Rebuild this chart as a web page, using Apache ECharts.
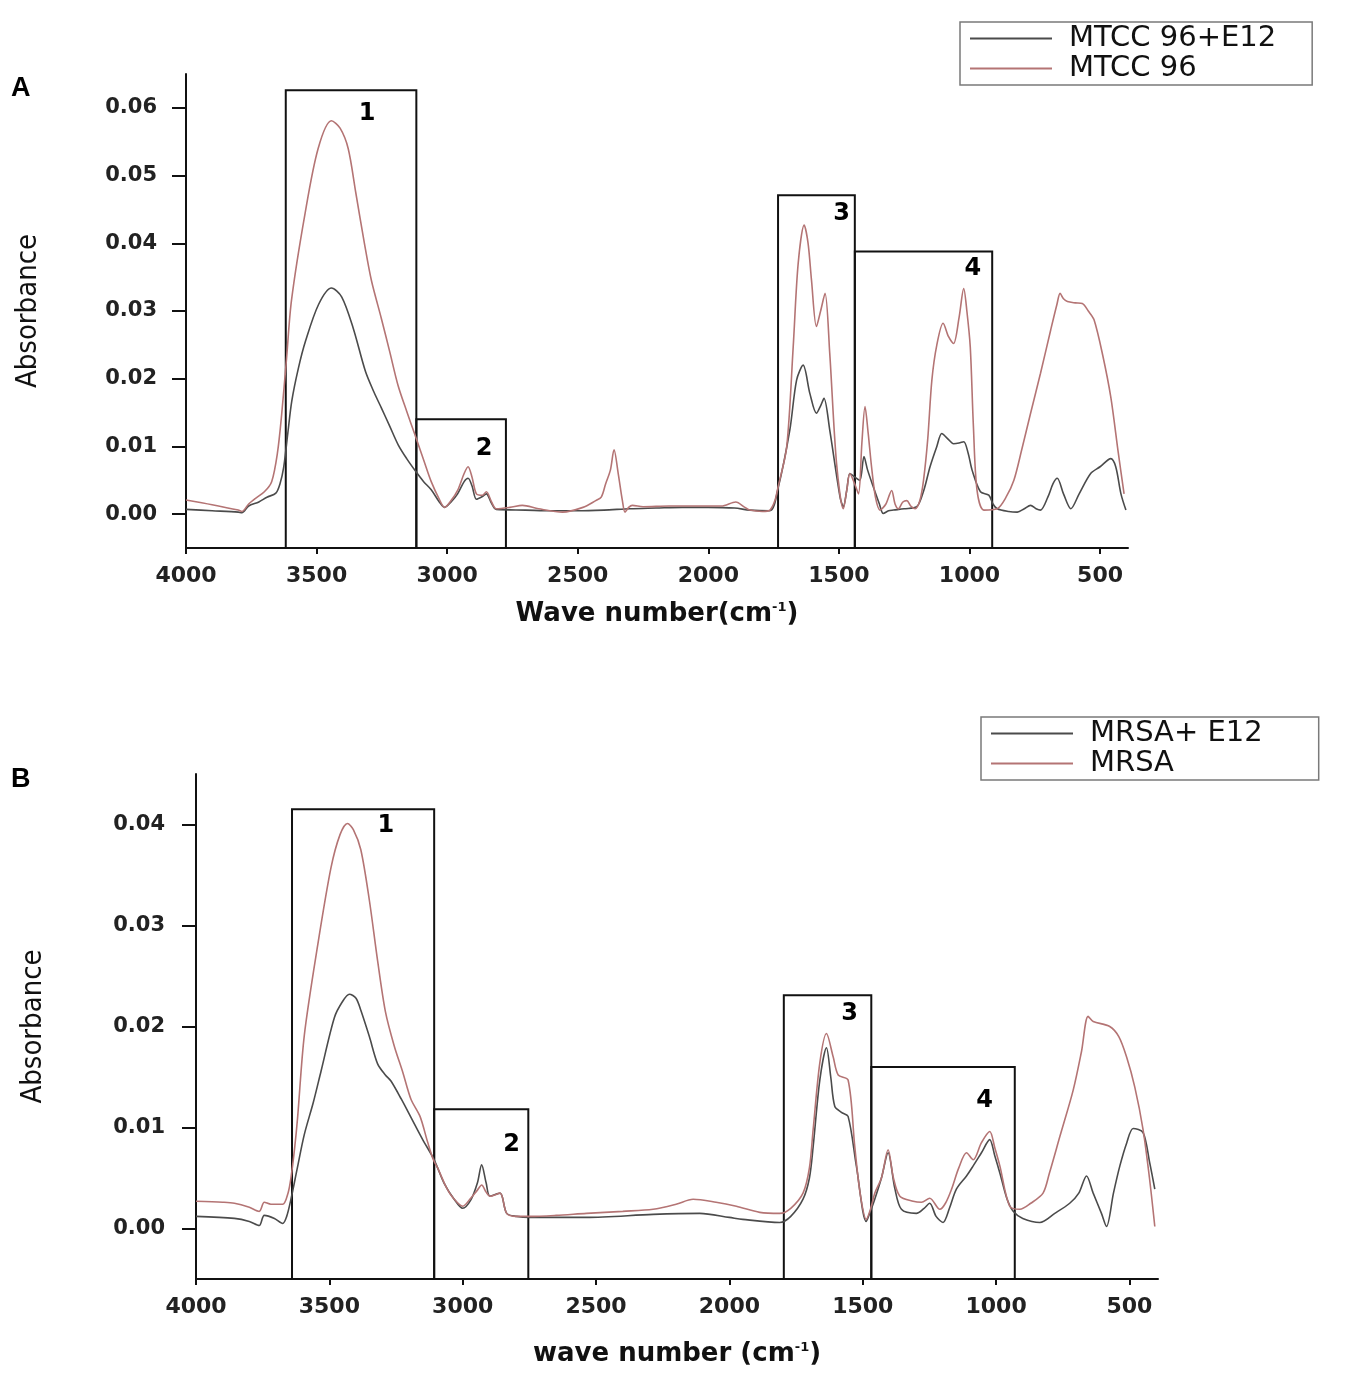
<!DOCTYPE html>
<html>
<head>
<meta charset="utf-8">
<script src="https://cdn.jsdelivr.net/npm/echarts@6/dist/echarts.min.js"></script>
<style>
html,body{margin:0;padding:0;background:#fff;}
#chart{width:1350px;height:1374px;}
</style>
</head>
<body>
<div id="chart"></div>
<script>
// ---------- Panel A data ----------
const aNameDark = 'MTCC 96+E12';
const aNameRed = 'MTCC 96';
const aDarkX = [4000,3900,3800,3786,3760,3721,3690,3656,3640,3626,3610,3595,3570,3542,3492,3443,3404,3360,3313,3280,3252,3220,3187,3155,3122,3090,3061,3030,3010,2985,2960,2935,2920,2905,2888,2865,2850,2830,2812,2700,2600,2500,2400,2300,2200,2100,2000,1900,1841,1764,1733,1688,1662,1637,1611,1586,1570,1557,1535,1496,1483,1470,1458,1440,1420,1404,1390,1368,1345,1330,1310,1291,1250,1202,1175,1151,1125,1106,1085,1061,1040,1022,1005,990,958,926,910,894,850,817,790,766,745,728,700,680,664,640,612,580,536,500,459,440,420,401];
const aDarkY = [0.0007,0.0005,0.0003,0.0002,0.0012,0.0018,0.0025,0.0031,0.0045,0.0069,0.0120,0.0167,0.0215,0.0256,0.0310,0.0334,0.0321,0.0275,0.0211,0.0180,0.0157,0.0130,0.0102,0.0082,0.0064,0.0048,0.0036,0.0018,0.0010,0.0018,0.0030,0.0048,0.0053,0.0042,0.0022,0.0026,0.0030,0.0016,0.0007,0.0006,0.0005,0.0005,0.0006,0.0008,0.0009,0.0010,0.0010,0.0009,0.0006,0.0005,0.0038,0.0124,0.0198,0.0220,0.0178,0.0149,0.0160,0.0171,0.0124,0.0026,0.0011,0.0035,0.0060,0.0055,0.0050,0.0085,0.0065,0.0040,0.0015,0.0001,0.0005,0.0006,0.0008,0.0011,0.0035,0.0070,0.0100,0.0119,0.0112,0.0104,0.0105,0.0107,0.0090,0.0065,0.0033,0.0028,0.0015,0.0008,0.0004,0.0003,0.0008,0.0013,0.0008,0.0006,0.0025,0.0045,0.0053,0.0030,0.0008,0.0030,0.0060,0.0070,0.0082,0.0070,0.0030,0.0006];
const aRedX = [4000,3900,3800,3786,3760,3735,3700,3672,3650,3634,3615,3596,3545,3494,3443,3410,3379,3350,3316,3290,3252,3220,3188,3155,3125,3090,3061,3030,3010,2985,2960,2935,2920,2905,2888,2865,2850,2830,2812,2760,2712,2650,2558,2480,2431,2410,2393,2375,2361,2345,2329,2319,2305,2291,2250,2150,2050,1950,1895,1860,1841,1793,1764,1745,1733,1700,1675,1656,1633,1618,1605,1586,1570,1553,1535,1509,1483,1470,1458,1440,1425,1412,1400,1388,1375,1360,1343,1320,1298,1285,1272,1255,1240,1225,1208,1190,1176,1160,1144,1125,1101,1080,1061,1040,1022,1010,997,985,971,945,894,860,830,800,766,728,689,665,653,640,625,595,568,545,523,490,459,430,408];
const aRedY = [0.0021,0.0014,0.0006,0.0004,0.0015,0.0023,0.0033,0.0048,0.0090,0.0146,0.0230,0.0316,0.0442,0.0540,0.0581,0.0570,0.0540,0.0475,0.0398,0.0345,0.0289,0.0240,0.0190,0.0152,0.0119,0.0080,0.0048,0.0022,0.0010,0.0020,0.0035,0.0060,0.0070,0.0055,0.0030,0.0028,0.0033,0.0018,0.0008,0.0010,0.0013,0.0008,0.0003,0.0010,0.0020,0.0025,0.0045,0.0065,0.0095,0.0060,0.0020,0.0003,0.0010,0.0013,0.0011,0.0012,0.0012,0.0012,0.0018,0.0010,0.0006,0.0004,0.0006,0.0020,0.0040,0.0099,0.0247,0.0370,0.0427,0.0400,0.0346,0.0277,0.0300,0.0326,0.0237,0.0075,0.0008,0.0035,0.0060,0.0045,0.0030,0.0105,0.0159,0.0120,0.0070,0.0025,0.0006,0.0015,0.0035,0.0015,0.0008,0.0018,0.0020,0.0012,0.0008,0.0020,0.0050,0.0110,0.0198,0.0250,0.0282,0.0262,0.0252,0.0290,0.0333,0.0300,0.0247,0.0130,0.0035,0.0006,0.0008,0.0025,0.0050,0.0095,0.0149,0.0208,0.0272,0.0310,0.0326,0.0318,0.0314,0.0312,0.0311,0.0300,0.0287,0.0235,0.0173,0.0090,0.0030];
// boxes: [left wavenumber, right wavenumber, top absorbance]
const aBoxLeft = [3618,3118,1733,1439];
const aBoxRight = [3118,2775,1439,913];
const aBoxTop = [0.0626,0.0140,0.0471,0.0388];
const aBoxLabel = ['1','2','3','4'];
const aBoxLabelX = [3307,2859,1490,987];
const aBoxLabelY = [0.0592,0.0097,0.0444,0.0363];
const aYTicks = [0,0.01,0.02,0.03,0.04,0.05,0.06];

// ---------- Panel B data ----------
const bNameDark = 'MRSA+ E12';
const bNameRed = 'MRSA';
const bDarkX = [4000,3856,3800,3763,3744,3706,3675,3660,3644,3620,3594,3560,3531,3481,3450,3425,3400,3382,3350,3319,3290,3269,3230,3194,3150,3107,3070,3032,3000,2970,2945,2929,2912,2898,2860,2835,2798,2748,2536,2286,2111,2000,1950,1811,1770,1724,1700,1686,1661,1636,1620,1605,1580,1555,1524,1487,1470,1455,1430,1405,1380,1355,1299,1270,1249,1225,1199,1175,1149,1111,1086,1055,1024,1005,986,960,936,900,836,780,724,690,661,636,605,586,560,536,510,486,449,424,405];
const bDarkY = [0.0012,0.0010,0.0007,0.0003,0.0013,0.0010,0.0005,0.0012,0.0029,0.0060,0.0093,0.0125,0.0156,0.0209,0.0225,0.0232,0.0228,0.0216,0.0190,0.0163,0.0152,0.0146,0.0128,0.0110,0.0088,0.0068,0.0045,0.0029,0.0020,0.0028,0.0045,0.0063,0.0045,0.0032,0.0035,0.0015,0.0012,0.0011,0.0011,0.0014,0.0015,0.0011,0.0009,0.0006,0.0012,0.0029,0.0050,0.0081,0.0147,0.0179,0.0150,0.0121,0.0115,0.0111,0.0062,0.0007,0.0018,0.0029,0.0050,0.0075,0.0040,0.0019,0.0015,0.0020,0.0025,0.0012,0.0006,0.0020,0.0039,0.0052,0.0062,0.0075,0.0088,0.0072,0.0055,0.0030,0.0017,0.0010,0.0006,0.0015,0.0025,0.0035,0.0052,0.0035,0.0015,0.0002,0.0035,0.0062,0.0085,0.0099,0.0095,0.0065,0.0039];
const bRedX = [4000,3900,3856,3800,3763,3744,3719,3675,3655,3644,3630,3619,3594,3544,3494,3460,3432,3410,3382,3350,3319,3290,3257,3225,3194,3160,3132,3110,3094,3060,3035,3000,2970,2945,2929,2912,2898,2860,2835,2798,2748,2650,2536,2400,2286,2200,2136,2050,1974,1886,1811,1770,1724,1700,1686,1661,1636,1611,1592,1555,1530,1510,1487,1470,1455,1430,1405,1385,1361,1311,1280,1249,1211,1190,1167,1140,1111,1086,1055,1024,1005,986,949,911,870,824,800,761,711,680,655,636,574,540,511,480,449,425,405];
const bRedY = [0.0027,0.0026,0.0025,0.0021,0.0017,0.0026,0.0024,0.0024,0.0035,0.0050,0.0080,0.0110,0.0191,0.0280,0.0357,0.0390,0.0401,0.0395,0.0375,0.0325,0.0265,0.0215,0.0181,0.0155,0.0128,0.0111,0.0086,0.0068,0.0060,0.0040,0.0030,0.0022,0.0030,0.0038,0.0043,0.0036,0.0032,0.0035,0.0015,0.0012,0.0012,0.0013,0.0015,0.0017,0.0019,0.0024,0.0029,0.0026,0.0022,0.0016,0.0015,0.0020,0.0035,0.0060,0.0098,0.0164,0.0193,0.0170,0.0152,0.0147,0.0081,0.0035,0.0009,0.0020,0.0035,0.0050,0.0078,0.0050,0.0032,0.0027,0.0026,0.0030,0.0019,0.0025,0.0039,0.0060,0.0075,0.0068,0.0085,0.0096,0.0080,0.0062,0.0022,0.0019,0.0025,0.0035,0.0055,0.0091,0.0137,0.0175,0.0210,0.0205,0.0200,0.0190,0.0170,0.0140,0.0098,0.0050,0.0002];
const bBoxLeft = [3640,3107,1796,1468];
const bBoxRight = [3107,2754,1468,930];
const bBoxTop = [0.0415,0.0118,0.0231,0.0160];
const bBoxLabel = ['1','2','3','4'];
const bBoxLabelX = [3288,2817,1549,1043];
const bBoxLabelY = [0.0399,0.0083,0.0213,0.0126];
const bYTicks = [0,0.01,0.02,0.03,0.04];

const xTicks = [500,1000,1500,2000,2500,3000,3500,4000];

// ---------- styles ----------
const DARK = '#4b4b4b';
const RED = '#b47474';
const INK = '#111111';
const NUMFONT = 'DejaVu Sans';
const NARROW = "'DejaVu Sans Condensed', 'Liberation Sans Narrow', 'Liberation Sans', sans-serif";

function pairs(xs, ys){ return xs.map((x,i)=>[x, ys[i]]); }

function lineSeries(name, xs, ys, color, idx){
  return {
    name: name, type:'line', xAxisIndex: idx, yAxisIndex: idx,
    data: pairs(xs, ys), showSymbol:false, symbol:'none', smooth:0.3,
    itemStyle:{color:color}, lineStyle:{color:color, width:1.6},
    z: 3, animation:false
  };
}

function boxSeries(idx, ymin, lefts, rights, tops, labels, lx, ly){
  return {
    type:'scatter', xAxisIndex: idx, yAxisIndex: idx, symbolSize:0, silent:true,
    itemStyle:{color:'#000', opacity:1},
    data: labels.map((t,i)=>({name:t, value:[lx[i], ly[i]]})),
    label:{show:true, position:'inside', formatter:'{b}', fontFamily:NUMFONT, fontWeight:'bold', fontSize:24, color:'#000', opacity:1, textBorderWidth:0},
    markArea:{
      silent:true,
      itemStyle:{color:'rgba(0,0,0,0)', borderColor:INK, borderWidth:2, opacity:1},
      data: lefts.map((l,i)=>[{xAxis:l, yAxis:ymin},{xAxis:rights[i], yAxis:tops[i]}])
    },
    z: 4, animation:false
  };
}

function xAxisCfg(idx, titleText, gap){
  return {
    type:'value', gridIndex: idx, inverse:true, min:393, max:4000,
    axisLine:{show:true, onZero:false, lineStyle:{color:INK, width:2}},
    axisTick:{show:true, length:6, customValues:xTicks, lineStyle:{color:INK, width:2}},
    axisLabel:{customValues:xTicks, margin:17, formatter:v=>String(Math.round(v)), fontFamily:NUMFONT, fontWeight:'bold', fontSize:22, color:'#222'},
    splitLine:{show:false},
    name: titleText, nameLocation:'middle', nameGap: gap,
    nameTextStyle:{fontFamily:NUMFONT, fontWeight:'bold', fontSize:26, color:INK,
      rich:{sup:{fontFamily:NUMFONT, fontWeight:'bold', fontSize:13, color:INK, verticalAlign:'top', padding:[0,0,10,0]}}}
  };
}

function yAxisCfg(idx, min, max, ticks, gap, margin){
  return {
    type:'value', gridIndex: idx, min:min, max:max,
    axisLine:{show:true, onZero:false, lineStyle:{color:INK, width:2}},
    axisTick:{show:true, length:14, customValues:ticks, lineStyle:{color:INK, width:2}},
    axisLabel:{customValues:ticks, margin:margin, formatter:v=>v.toFixed(2), fontFamily:NUMFONT, fontWeight:'bold', fontSize:21, color:'#222'},
    splitLine:{show:false},
    name:'Absorbance', nameLocation:'middle', nameGap: gap, nameRotate:90,
    nameTextStyle:{fontFamily:NARROW, fontSize:29, color:INK}
  };
}

function legendCfg(names, left, top, padRight){
  return {
    data: names, orient:'vertical', left:left, top:top,
    icon:'rect', itemWidth:82, itemHeight:2, itemGap:1,
    padding:[2, padRight, 2, 10],
    borderColor:'#7a7a7a', borderWidth:1.5,
    textStyle:{fontFamily:NUMFONT, fontSize:29, color:INK, lineHeight:28, padding:[0,0,0,12]},
    selectedMode:false
  };
}

const chart = echarts.init(document.getElementById('chart'), null, {renderer:'canvas'});
chart.setOption({
  backgroundColor:'#ffffff',
  animation:false,
  grid:[
    {left:186, top:74, width:942, height:474, containLabel:false, outerBoundsMode:'none'},
    {left:196, top:774, width:962, height:505, containLabel:false, outerBoundsMode:'none'}
  ],
  xAxis:[
    xAxisCfg(0, 'Wave number(cm{sup|-1})', 53),
    xAxisCfg(1, 'wave number (cm{sup|-1})', 62)
  ],
  yAxis:[
    yAxisCfg(0, -0.005, 0.065, aYTicks, 143, 29),
    yAxisCfg(1, -0.005, 0.045, bYTicks, 148, 31)
  ],
  legend:[
    legendCfg([aNameDark, aNameRed], 960, 22, 36),
    legendCfg([bNameDark, bNameRed], 981, 717, 56)
  ],
  graphic:[
    {type:'text', left:11, top:75, style:{text:'A', font:'bold 27px "Liberation Sans"', fill:'#000'}},
    {type:'text', left:11, top:766, style:{text:'B', font:'bold 27px "Liberation Sans"', fill:'#000'}}
  ],
  series:[
    boxSeries(0, -0.005, aBoxLeft, aBoxRight, aBoxTop, aBoxLabel, aBoxLabelX, aBoxLabelY),
    lineSeries(aNameDark, aDarkX, aDarkY, DARK, 0),
    lineSeries(aNameRed, aRedX, aRedY, RED, 0),
    boxSeries(1, -0.005, bBoxLeft, bBoxRight, bBoxTop, bBoxLabel, bBoxLabelX, bBoxLabelY),
    lineSeries(bNameDark, bDarkX, bDarkY, DARK, 1),
    lineSeries(bNameRed, bRedX, bRedY, RED, 1)
  ]
});
</script>
</body>
</html>
